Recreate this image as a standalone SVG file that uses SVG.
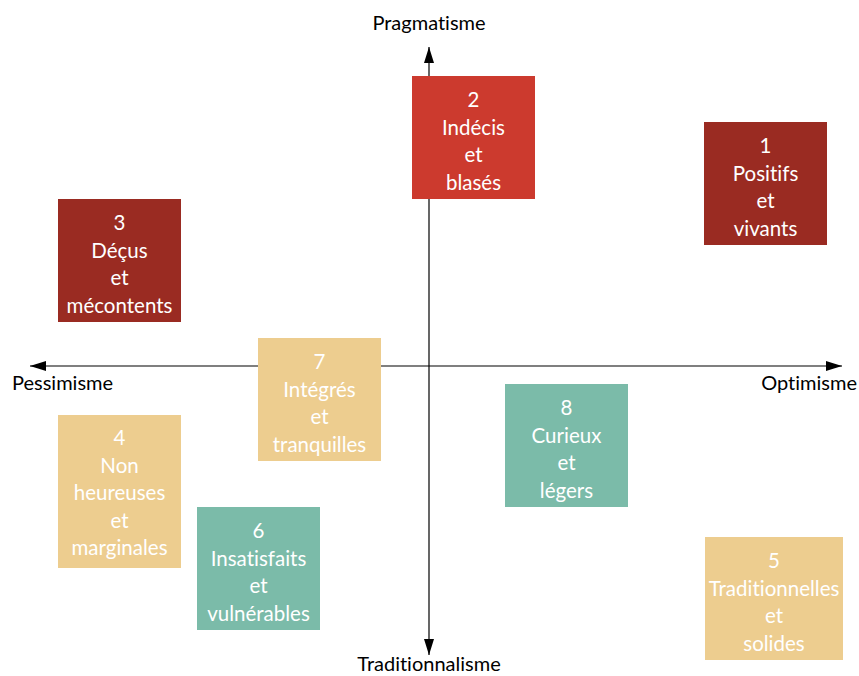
<svg xmlns="http://www.w3.org/2000/svg" width="859" height="676" viewBox="0 0 859 676">
<style>
text{font-variant-ligatures:none}
.ax{stroke:#000;stroke-width:1.2;fill:none}
.lbl{font-family:Lato,"Open Sans",sans-serif;font-size:20px;fill:#000}
.t{font-family:Lato,"Open Sans",sans-serif;font-size:20.5px;fill:#fff;text-anchor:middle}
.dr{fill:#9A2B22}
.rd{fill:#CC3A2E}
.tn{fill:#EDCD8F}
.tl{fill:#7BBBA9}
</style>
<defs>
<marker id="ah" viewBox="0 0 16 10" refX="16" refY="5" markerWidth="16" markerHeight="10" markerUnits="userSpaceOnUse" orient="auto">
<path d="M0,0 L16,5 L0,10 Z" fill="#000"/>
</marker>
</defs>
<rect width="859" height="676" fill="#fff"/>
<g id="connectors">
<line class="ax" x1="429" y1="366" x2="30" y2="366" marker-end="url(#ah)"/>
<line class="ax" x1="429" y1="366" x2="842" y2="366" marker-end="url(#ah)"/>
<line class="ax" x1="429" y1="366" x2="429" y2="47" marker-end="url(#ah)"/>
<line class="ax" x1="429" y1="366" x2="429" y2="655" marker-end="url(#ah)"/>
</g>
<g id="axis-labels">
<text class="lbl" x="429" y="30" text-anchor="middle">Pragmatisme</text>
<text class="lbl" x="429" y="671" text-anchor="middle">Traditionnalisme</text>
<text class="lbl" x="12" y="390">Pessimisme</text>
<text class="lbl" x="857" y="390" text-anchor="end">Optimisme</text>
</g>
<g id="n2">
<rect class="rd" x="412" y="76" width="123" height="123"/>
<text class="t" x="473.5" y="107">2</text>
<text class="t" x="473.5" y="134.5">Indécis</text>
<text class="t" x="473.5" y="162">et</text>
<text class="t" x="473.5" y="189.5">blasés</text>
</g>
<g id="n1">
<rect class="dr" x="704" y="122" width="123" height="123"/>
<text class="t" x="765.5" y="153">1</text>
<text class="t" x="765.5" y="180.5">Positifs</text>
<text class="t" x="765.5" y="208">et</text>
<text class="t" x="765.5" y="235.5">vivants</text>
</g>
<g id="n3">
<rect class="dr" x="58" y="199" width="123" height="123"/>
<text class="t" x="119.5" y="230">3</text>
<text class="t" x="119.5" y="257.5">Déçus</text>
<text class="t" x="119.5" y="285">et</text>
<text class="t" x="119.5" y="312.5">mécontents</text>
</g>
<g id="n7">
<rect class="tn" x="258" y="338" width="123" height="123"/>
<text class="t" x="319.5" y="369">7</text>
<text class="t" x="319.5" y="396.5">Intégrés</text>
<text class="t" x="319.5" y="424">et</text>
<text class="t" x="319.5" y="451.5">tranquilles</text>
</g>
<g id="n4">
<rect class="tn" x="58" y="415" width="123" height="153"/>
<text class="t" x="119.5" y="445">4</text>
<text class="t" x="119.5" y="472.5">Non</text>
<text class="t" x="119.5" y="500">heureuses</text>
<text class="t" x="119.5" y="527.5">et</text>
<text class="t" x="119.5" y="555">marginales</text>
</g>
<g id="n6">
<rect class="tl" x="197" y="507" width="123" height="123"/>
<text class="t" x="258.5" y="538">6</text>
<text class="t" x="258.5" y="565.5">Insatisfaits</text>
<text class="t" x="258.5" y="593">et</text>
<text class="t" x="258.5" y="620.5">vulnérables</text>
</g>
<g id="n8">
<rect class="tl" x="505" y="384" width="123" height="123"/>
<text class="t" x="566.5" y="415">8</text>
<text class="t" x="566.5" y="442.5">Curieux</text>
<text class="t" x="566.5" y="470">et</text>
<text class="t" x="566.5" y="497.5">légers</text>
</g>
<g id="n5">
<rect class="tn" x="705" y="537" width="138" height="123"/>
<text class="t" x="774" y="568">5</text>
<text class="t" x="774" y="595.5">Traditionnelles</text>
<text class="t" x="774" y="623">et</text>
<text class="t" x="774" y="650.5">solides</text>
</g>
</svg>
